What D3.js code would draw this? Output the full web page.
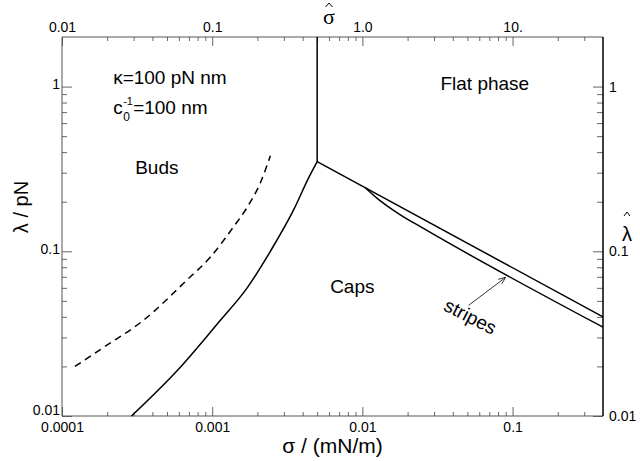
<!DOCTYPE html>
<html>
<head>
<meta charset="utf-8">
<script src="https://cdn.jsdelivr.net/npm/d3@7"></script>
<style>
  body { margin: 0; background: #fff; }
  svg text { font-family: "Liberation Sans", Arial, sans-serif; fill: #000; }
</style>
</head>
<body>
<div id="chart"></div>
<script>
// axis ranges
var sigmaDomain = [0.0001, 0.4]
var lambdaDomain = [0.01, 2]
var sigmaHatDomain = [0.01, 40]

// tick labels
var xMajor = [0.0001, 0.001, 0.01, 0.1]
var xLabels = ["0.0001", "0.001", "0.01", "0.1"]
var topMajor = [0.01, 0.1, 1, 10]
var topLabels = ["0.01", "0.1", "1.0", "10."]
var yMajor = [0.01, 0.1, 1]
var yLabels = ["0.01", "0.1", "1"]

// phase boundaries [sigma, lambda]
var flatLine = [[0.005, 2], [0.005, 0.35]]
var upperLine = [[0.005, 0.35], [0.4, 0.04]]
var lowerLine = [[0.0105, 0.2424], [0.0125, 0.2104], [0.015, 0.1856], [0.018, 0.166], [0.025, 0.1391], [0.4, 0.0346]]
var budLine = [[0.00029, 0.01], [0.00062, 0.02], [0.00113, 0.038], [0.00171, 0.06], [0.00244, 0.1], [0.00347, 0.177], [0.00437, 0.277], [0.005, 0.35]]
var dashLine = [[0.000122, 0.02], [0.000188, 0.026], [0.000347, 0.038], [0.00068, 0.067], [0.00097, 0.092], [0.00138, 0.14], [0.00171, 0.185], [0.00209, 0.26], [0.00244, 0.38]]
var arrowLine = [[0.051, 0.047], [0.09, 0.0695]]

var W = 640, H = 461
var margin = { top: 37, right: 37, bottom: 45, left: 62 }

var svg = d3.select("#chart").append("svg")
    .attr("width", W)
    .attr("height", H)

var x = d3.scaleLog().domain(sigmaDomain).range([margin.left, W - margin.right])
var xTop = d3.scaleLog().domain(sigmaHatDomain).range([margin.left, W - margin.right])
var y = d3.scaleLog().domain(lambdaDomain).range([H - margin.bottom, margin.top])

// minor ticks 2..9 per decade inside the domain
function minors(dom) {
    var out = []
    for (var e = Math.floor(Math.log10(dom[0])); e <= Math.ceil(Math.log10(dom[1])); e++) {
        for (var k = 2; k <= 9; k++) {
            var v = k * Math.pow(10, e)
            if (v > dom[0] && v < dom[1] * 0.999) out.push(v)
        }
    }
    return out
}

var tickColor = "#666"
function styleAxis(g) {
    g.select(".domain").remove()
    g.attr("font-family", null)
    g.selectAll(".tick line").attr("stroke", tickColor)
    g.selectAll(".tick text").style("font-size", "14px")
}

var x0 = margin.left, x1 = W - margin.right, y0 = H - margin.bottom, y1 = margin.top

// bottom axis
svg.append("g").attr("transform", "translate(0," + y0 + ")")
    .call(d3.axisBottom(x).tickValues(minors(sigmaDomain)).tickSize(-4).tickFormat(""))
    .call(styleAxis)
svg.append("g").attr("transform", "translate(0," + y0 + ")")
    .call(d3.axisBottom(x).tickValues(xMajor).tickSize(-9).tickPadding(6).tickFormat((d, i) => xLabels[i]))
    .call(styleAxis)

// top axis (sigma hat)
svg.append("g").attr("transform", "translate(0," + y1 + ")")
    .call(d3.axisTop(xTop).tickValues(minors(sigmaHatDomain)).tickSize(-4).tickFormat(""))
    .call(styleAxis)
svg.append("g").attr("transform", "translate(0," + y1 + ")")
    .call(d3.axisTop(xTop).tickValues(topMajor).tickSize(-9).tickPadding(5).tickFormat((d, i) => topLabels[i]))
    .call(styleAxis)

// left axis
svg.append("g").attr("transform", "translate(" + x0 + ",0)")
    .call(d3.axisLeft(y).tickValues(minors(lambdaDomain)).tickSize(-5).tickFormat(""))
    .call(styleAxis)
svg.append("g").attr("transform", "translate(" + x0 + ",0)")
    .call(d3.axisLeft(y).tickValues(yMajor).tickSize(-10).tickPadding(2).tickFormat((d, i) => yLabels[i]))
    .call(styleAxis)
    .selectAll(".tick text").attr("dy", d => d === 0.01 ? "-0.08em" : "0.15em")

// right axis (lambda hat)
svg.append("g").attr("transform", "translate(" + x1 + ",0)")
    .call(d3.axisRight(y).tickValues(minors(lambdaDomain)).tickSize(-6).tickFormat(""))
    .call(styleAxis)
svg.append("g").attr("transform", "translate(" + x1 + ",0)")
    .call(d3.axisRight(y).tickValues(yMajor).tickSize(-10).tickPadding(6).tickFormat((d, i) => yLabels[i]))
    .call(styleAxis)

// frame
svg.append("path")
    .attr("d", "M" + x1 + "," + y1 + "H" + x0 + "V" + y0 + "H" + x1)
    .attr("fill", "none").attr("stroke", "#555").attr("stroke-width", 1)
svg.append("line")
    .attr("x1", x1).attr("x2", x1).attr("y1", y1).attr("y2", y0)
    .attr("stroke", "#000").attr("stroke-width", 1.5)

// axis titles
svg.append("text")
    .attr("x", (x0 + x1) / 2).attr("y", 453)
    .attr("text-anchor", "middle").style("font-size", "21px")
    .text("σ / (mN/m)")
svg.append("text")
    .attr("transform", "translate(28," + 207 + ") rotate(-90)")
    .attr("text-anchor", "middle").style("font-size", "20px")
    .text("λ / pN")

// sigma hat and lambda hat: the symbol as text, the hat drawn as a small chevron
function hat(cxh, top, w, h) {
    svg.append("path")
        .attr("d", "M" + (cxh - w / 2) + "," + (top + h) + "L" + cxh + "," + top + "L" + (cxh + w / 2) + "," + (top + h))
        .attr("fill", "none").attr("stroke", "#000").attr("stroke-width", 1)
}
svg.append("text").attr("x", 329).attr("y", 24).attr("text-anchor", "middle")
    .style("font-family", "'Liberation Serif', serif").style("font-size", "22px").text("σ")
hat(329, 3, 7, 4)
svg.append("text").attr("x", 627).attr("y", 241).attr("text-anchor", "middle")
    .style("font-size", "20px").text("λ")
hat(627, 212, 6, 4)

// curves
var line = d3.line().x(d => x(d[0])).y(d => y(d[1]))
var smooth = d3.line().x(d => x(d[0])).y(d => y(d[1])).curve(d3.curveMonotoneX)

var plot = svg.append("g")
plot.append("path").attr("d", line(flatLine))
    .attr("fill", "none").attr("stroke", "#000").attr("stroke-width", 1.5)
plot.append("path").attr("d", line(upperLine))
    .attr("fill", "none").attr("stroke", "#000").attr("stroke-width", 1.5)
plot.append("path").attr("d", smooth(lowerLine))
    .attr("fill", "none").attr("stroke", "#000").attr("stroke-width", 1.5)
plot.append("path").attr("d", smooth(budLine))
    .attr("fill", "none").attr("stroke", "#000").attr("stroke-width", 1.5)
plot.append("path").attr("d", smooth(dashLine))
    .attr("fill", "none").attr("stroke", "#000").attr("stroke-width", 1.5)
    .attr("stroke-dasharray", "7,5")

// arrow to the stripes region
svg.append("defs").append("marker")
    .attr("id", "arrow").attr("viewBox", "0 0 10 10")
    .attr("refX", 10).attr("refY", 5)
    .attr("markerWidth", 9).attr("markerHeight", 9)
    .attr("orient", "auto")
    .append("path").attr("d", "M0,1 L10,5 L0,9")
    .attr("fill", "none").attr("stroke", "#000").attr("stroke-width", 1)
plot.append("path").attr("d", line(arrowLine))
    .attr("stroke", "#000").attr("stroke-width", 0.8)
    .attr("marker-end", "url(#arrow)")

// labels
var labelSize = "19px"
svg.append("text").attr("x", x(0.000219)).attr("y", y(1.03)).style("font-size", labelSize).text("κ=100 pN nm")
var cx = x(0.000219), cy = y(0.68)
svg.append("text").attr("x", cx).attr("y", cy).style("font-size", labelSize).text("c")
svg.append("text").attr("x", cx + 10).attr("y", cy - 9).style("font-size", "11px").text("-1")
svg.append("text").attr("x", cx + 10).attr("y", cy + 7).style("font-size", "12px").text("0")
svg.append("text").attr("x", cx + 20).attr("y", cy).style("font-size", labelSize).text("=100 nm")
svg.append("text").attr("x", x(0.0331)).attr("y", y(0.96)).style("font-size", labelSize).text("Flat phase")
svg.append("text").attr("x", x(0.000307)).attr("y", y(0.293)).style("font-size", labelSize).text("Buds")
svg.append("text").attr("x", x(0.0061)).attr("y", y(0.0556)).style("font-size", labelSize).text("Caps")
svg.append("text")
    .attr("transform", "translate(" + x(0.05) + "," + y(0.037) + ") rotate(27)")
    .attr("text-anchor", "middle").style("font-size", labelSize).text("stripes")
</script>
</body>
</html>
